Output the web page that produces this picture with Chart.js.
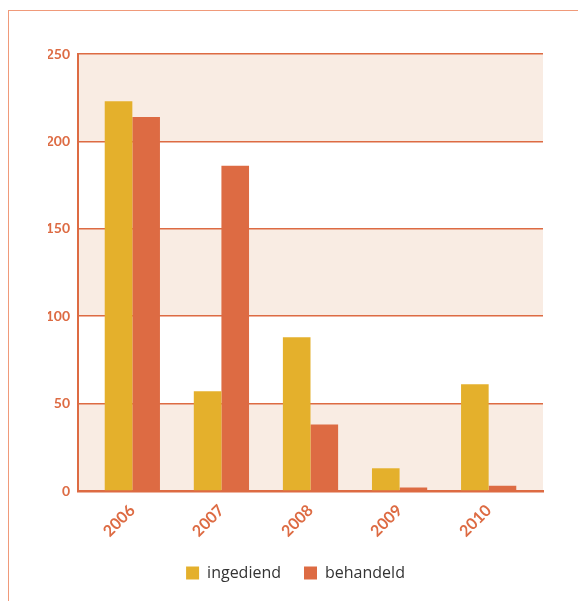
<!DOCTYPE html>
<html>
<head>
<meta charset="utf-8">
<script src="https://cdn.jsdelivr.net/npm/chart.js"></script>
<style>
body { margin: 0; background: #fff; }
#kader { position: absolute; left: 8px; top: 10px; width: 570px; height: 591px; border-top: 1.5px solid #f09a7a; border-left: 1.5px solid #f09a7a; }
#wrap { position: absolute; left: 0; top: 0; width: 578px; height: 601px; }
</style>
</head>
<body>
<div id="kader"></div>
<div id="wrap"><canvas id="grafiek"></canvas></div>
<script>
var jaren = [2006, 2007, 2008, 2009, 2010]
var ingediend = [223, 57, 88, 13, 61]
var behandeld = [214, 186, 38, 2, 3]
var yTicks = [0, 50, 100, 150, 200, 250]

var oranje = '#dd6b43'
var geel = '#e4b02c'

// achtergrondbanden tussen de rasterlijnen
var banden = {
    id: 'banden',
    beforeDraw: function(chart) {
        var ctx = chart.ctx
        var a = chart.chartArea
        var y = chart.scales.y
        ctx.save()
        ctx.fillStyle = '#f9ece3'
        for (var i = 0; i < yTicks.length - 1; i += 2) {
            var top = y.getPixelForValue(yTicks[i + 1])
            var bot = y.getPixelForValue(yTicks[i])
            ctx.fillRect(a.left, top, a.right - a.left, bot - top)
        }
        ctx.restore()
    }
}

function punten(reeks) {
    return jaren.map(function(j, i) { return { x: j, y: reeks[i] } })
}

var ctx = document.getElementById('grafiek').getContext('2d')
var myChart = new Chart(ctx, {
    type: 'bar',
    data: {
        datasets: [{
            label: 'ingediend',
            data: punten(ingediend),
            backgroundColor: geel
        }, {
            label: 'behandeld',
            data: punten(behandeld),
            backgroundColor: oranje
        }]
    },
    plugins: [banden],
    options: {
        responsive: true,
        maintainAspectRatio: false,
        animation: false,
        categoryPercentage: 0.62,
        barPercentage: 1,
        layout: { padding: { left: 48, top: 54, right: 35, bottom: 10 } },
        scales: {
            x: {
                type: 'linear',
                offset: false,
                min: 2005.39,
                max: 2010.61,
                afterBuildTicks: function(scale) {
                    scale.ticks = jaren.map(function(j) { return { value: j } })
                },
                afterFit: function(scale) { scale.height = 51 },
                grid: { display: false, offset: false },
                border: { color: oranje, width: 2.5 },
                ticks: {
                    color: oranje,
                    font: { family: 'Lato', size: 16, weight: 'bold' },
                    maxRotation: 45,
                    minRotation: 45,
                    padding: 2,
                    callback: function(v) { return String(v) }
                }
            },
            y: {
                min: 0,
                max: 250,
                afterBuildTicks: function(scale) {
                    scale.ticks = yTicks.map(function(v) { return { value: v } })
                },
                afterFit: function(scale) { scale.width = 30 },
                grid: { color: oranje, lineWidth: 1.5, drawTicks: false },
                border: { color: oranje, width: 2 },
                ticks: {
                    color: oranje,
                    font: { family: 'Lato', size: 14, weight: 'bold' },
                    padding: 8
                }
            }
        },
        plugins: {
            tooltip: { enabled: false },
            legend: {
                position: 'bottom',
                labels: {
                    boxWidth: 13,
                    boxHeight: 13,
                    color: '#333',
                    padding: 23,
                    font: { family: 'Open Sans', size: 16 }
                }
            }
        }
    }
})
</script>
</body>
</html>
